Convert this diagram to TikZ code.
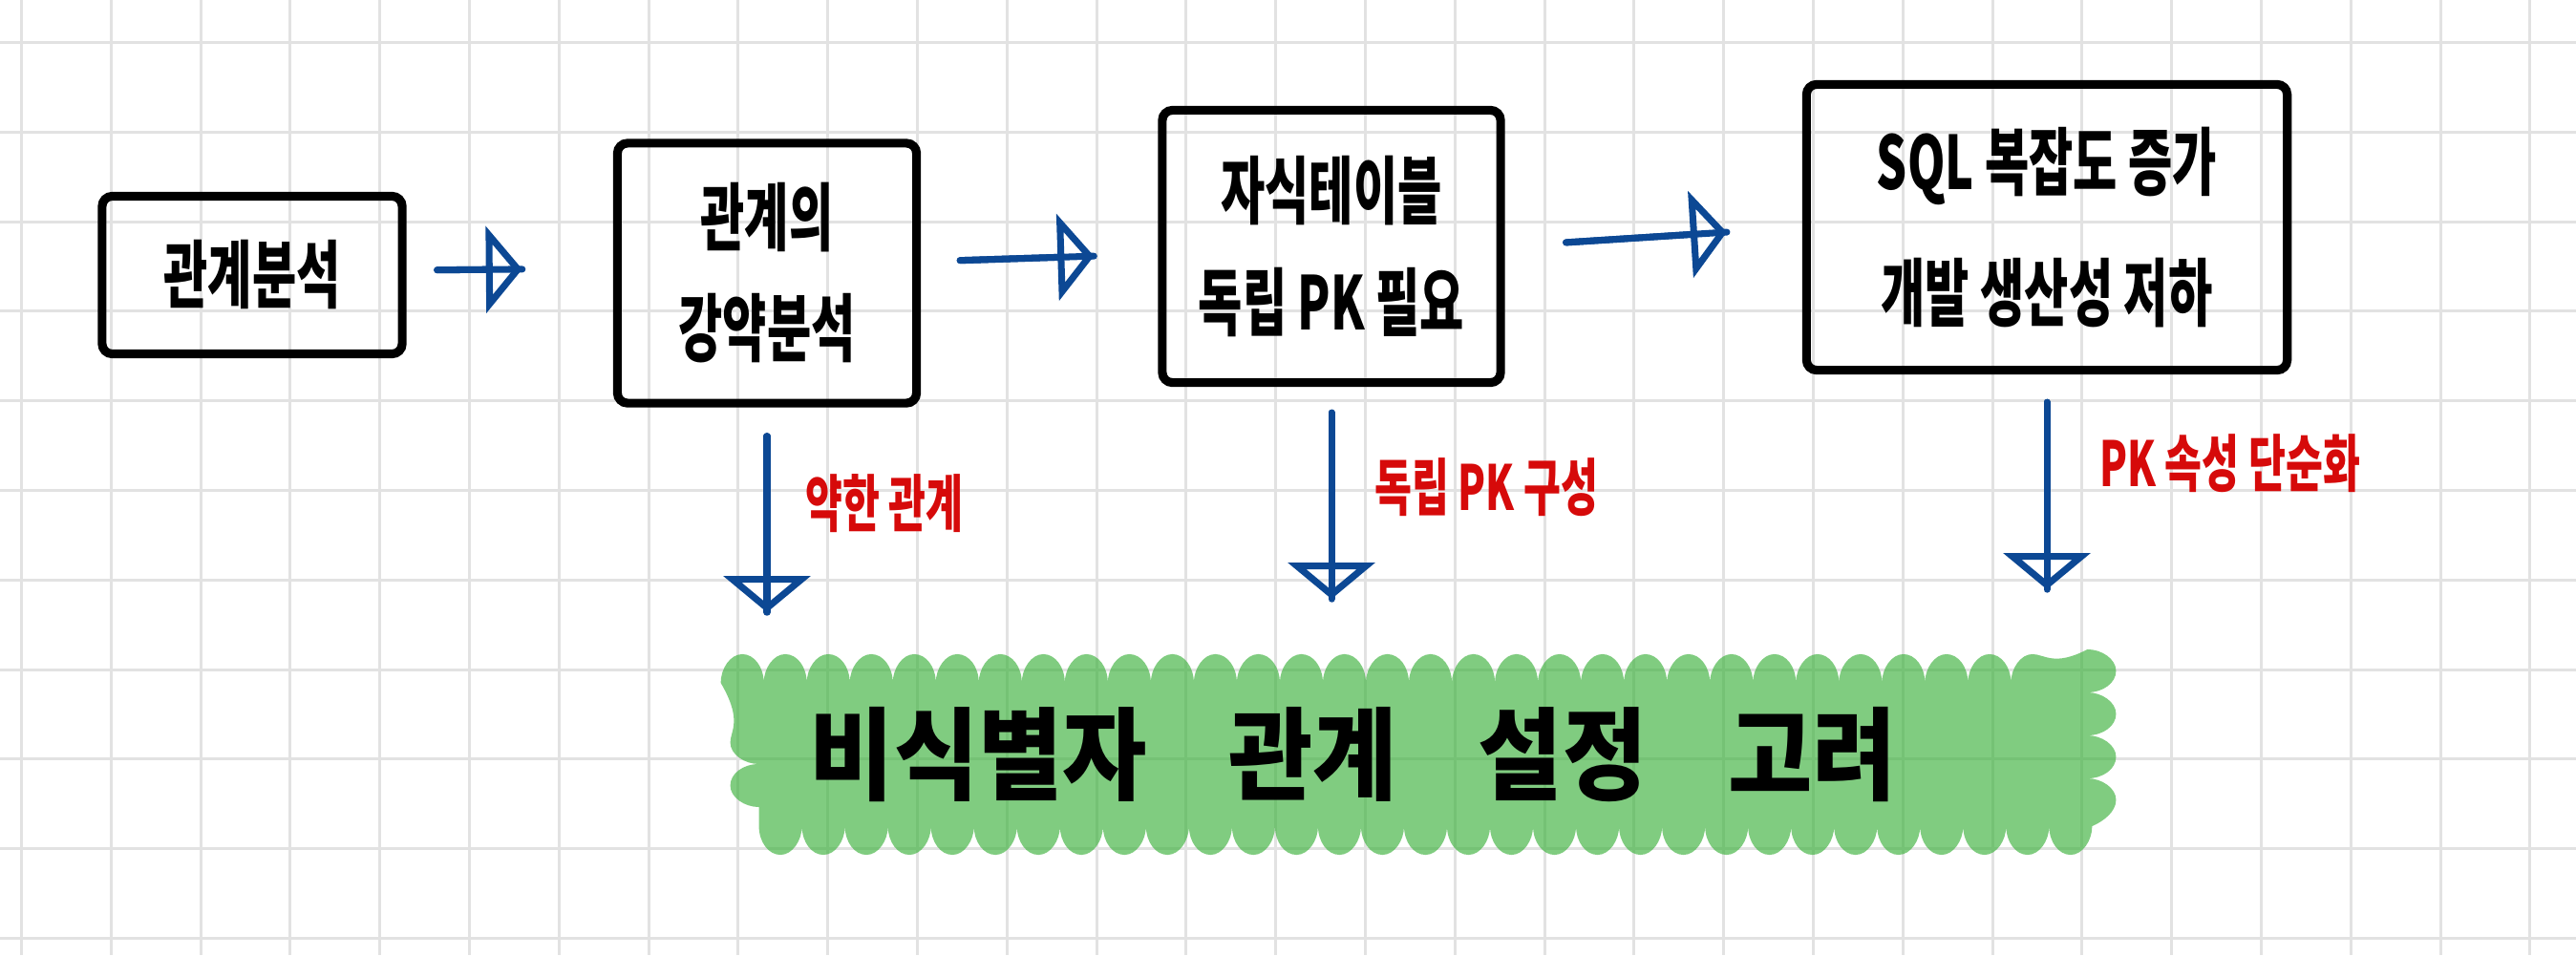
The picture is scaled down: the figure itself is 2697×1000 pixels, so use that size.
\documentclass[tikz,border=0pt]{standalone}
\usepackage{fontspec}
\newfontfamily\handfont[FakeStretch=0.65]{Noto Sans CJK KR}
\newfontfamily\bigfont[FakeStretch=0.91]{Noto Sans CJK KR}
\usetikzlibrary{arrows.meta,decorations.pathmorphing}
\definecolor{inkblue}{RGB}{12,72,148}
\definecolor{inkred}{RGB}{214,10,10}
\definecolor{gridgray}{RGB}{226,226,226}
\definecolor{marker}{RGB}{60,178,60}
\begin{document}
\begin{tikzpicture}[x=0.01cm, y=-0.01cm,
  every node/.style={font=\handfont\bfseries\fontsize{22}{33}\selectfont},
  sbox/.style={draw,line width=2.6pt,rounded corners=3pt,align=center,inner sep=0pt},
  flow/.style={draw=inkblue,line width=2pt,line cap=round,-{Triangle[open,length=0.38cm,width=0.9cm,line width=2pt]},
    postaction={draw=inkblue,line width=2pt,arrows=-}},
  note/.style={text=inkred,font=\handfont\bfseries\fontsize{18.5}{22}\selectfont},
  hilite/.style={fill=marker,fill opacity=0.65,text opacity=1,decorate,decoration={bumps,mirror,segment length=0.9cm,amplitude=0.3cm},
    minimum width=13.9cm,minimum height=1.5cm,font=\bigfont\bfseries\fontsize{30}{36}\selectfont}]
  \fill[white] (0,0) rectangle (2697,1000);
  \useasboundingbox (0,0) rectangle (2697,1000);
  \foreach \k in {0,...,28} \draw[gridgray,line width=0.03cm] ({22.5+93.8*\k},0) -- ({22.5+93.8*\k},1000);
  \foreach \k in {0,...,10} \draw[gridgray,line width=0.03cm] (0,{44.4+93.8*\k}) -- (2697,{44.4+93.8*\k});
  \node[sbox,minimum width=3.14cm,minimum height=1.65cm] (b1) at (264,288) {관계분석};
  \node[sbox,minimum width=3.13cm,minimum height=2.72cm] (b2) at (803,286) {관계의\\강약분석};
  \node[sbox,minimum width=3.54cm,minimum height=2.85cm] (b3) at (1394,258) {자식테이블\\독립 PK 필요};
  \node[sbox,minimum width=5.03cm,minimum height=2.99cm] (b4) at (2143,238) {SQL 복잡도 증가\\[6pt]개발 생산성 저하};
  \node[hilite] (goal) at (1490,790) {비식별자\hspace{0.85cm}관계\hspace{0.85cm}설정\hspace{0.85cm}고려\hspace*{1.46cm}};
  \draw[flow,shorten <=0.32cm,shorten >=0.95cm] ([yshift=0.05cm]b1.east) -- ([yshift=0.05cm]b2.west);
  \draw[flow,shorten <=0.41cm,shorten >=0.67cm] ([yshift=0.12cm]b2.east) -- ([yshift=-0.08cm]b3.west);
  \draw[flow,shorten <=0.64cm,shorten >=0.79cm] (b3.east) -- (b4.west);
  \draw[flow,shorten <=0.3cm,shorten >=0.73cm] (b2.south) -- (b2.south |- goal.north) node[note,pos=0.35,right=0.25cm] {약한 관계};
  \draw[flow,shorten <=0.27cm,shorten >=0.87cm] (b3.south) -- (b3.south |- goal.north) node[note,pos=0.34,right=0.3cm] {독립 PK 구성};
  \draw[flow,shorten <=0.29cm,shorten >=0.97cm] (b4.south) -- (b4.south |- goal.north) node[note,pos=0.29,right=0.4cm] {PK 속성 단순화};
\end{tikzpicture}
\end{document}
